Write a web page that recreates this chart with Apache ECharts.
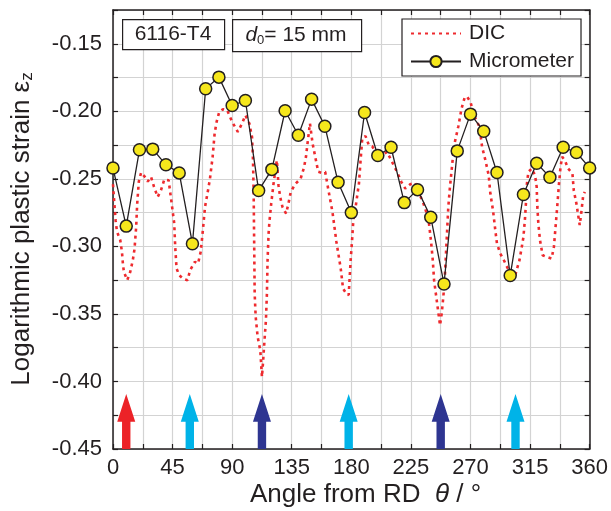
<!DOCTYPE html>
<html>
<head>
<meta charset="utf-8">
<script src="https://cdn.jsdelivr.net/npm/echarts@6/dist/echarts.min.js"></script>
<style>
html,body{margin:0;padding:0;background:#fff;}
#chart{width:611px;height:511px;}
</style>
</head>
<body>
<div id="chart"></div>
<script>
// ---- data ----
const dicAngles = [0,1,2,3,5.5,6.75,7.5,8.25,10.75,13,15,16.25,17.5,18.25,19.5,21.25,24.5,26.25,28.75,31,33.75,36.25,38.75,42,44.25,46.25,47,48,50,53,56.25,58.25,61.75,64.25,66.25,68,69.5,72,73.25,75.25,76.75,78.25,80.25,83,86.25,90,94.25,97.5,100,103,105,105.75,106.25,106.5,106.75,107,107.75,109.25,111.25,112.5,113.25,114.25,115.5,116.25,116.75,117.5,118.25,119.5,121.25,123.75,125,126.25,128,130.75,132.5,134.25,137.5,141.75,144.25,145.75,146.75,148.75,150.75,152.5,155,157.5,160.25,162.5,165.75,168.75,172,173.75,176.25,178,179.5,180.75,181.5,183.25,184.5,185.75,187,188.25,190.75,193.25,195.75,199.5,202,203.25,207,210.75,214.5,217.75,220.75,224.5,228.25,230.75,234.5,238.25,240.25,241.5,242.5,244.5,247,248.25,249.5,250.75,252,253.25,254.5,255.75,257,258.25,260.75,263.25,265.75,267.5,270,272.5,276.25,277.5,278.75,281.25,283.75,285,287,288.75,290,292.5,295,300,303.75,307,308.75,310,311.25,312,312.5,313.75,316.25,318.75,320,320.5,321.25,322.5,324.5,327.5,331.25,333,334.25,335.5,336.75,338,339.25,341.25,343.75,347,348,350,352.5,353.75,355,356.25];
const dicValues = [-0.254,-0.268,-0.281,-0.289,-0.2955,-0.304,-0.313,-0.319,-0.325,-0.319,-0.310,-0.302,-0.2856,-0.2688,-0.252,-0.2453,-0.249,-0.252,-0.2486,-0.256,-0.2634,-0.2584,-0.2505,-0.251,-0.2678,-0.2831,-0.3004,-0.3164,-0.3213,-0.324,-0.325,-0.3177,-0.3115,-0.3127,-0.304,-0.2868,-0.2708,-0.2572,-0.2498,-0.2337,-0.2165,-0.2078,-0.2004,-0.1985,-0.1992,-0.2078,-0.2152,-0.209,-0.2029,-0.209,-0.219,-0.2362,-0.261,-0.286,-0.310,-0.335,-0.352,-0.367,-0.377,-0.3966,-0.3868,-0.372,-0.3547,-0.335,-0.3102,-0.2905,-0.2806,-0.2683,-0.2535,-0.2362,-0.2547,-0.2634,-0.2708,-0.2757,-0.2683,-0.2597,-0.254,-0.2498,-0.2416,-0.2337,-0.2251,-0.209,-0.2239,-0.2325,-0.2448,-0.2455,-0.2448,-0.2572,-0.2745,-0.2967,-0.3164,-0.3312,-0.335,-0.336,-0.310,-0.293,-0.2806,-0.2708,-0.2621,-0.2535,-0.2362,-0.2202,-0.2184,-0.2251,-0.2258,-0.2325,-0.2374,-0.2325,-0.230,-0.2374,-0.2448,-0.2522,-0.2572,-0.254,-0.253,-0.2597,-0.2683,-0.2794,-0.2967,-0.310,-0.325,-0.3399,-0.3584,-0.3497,-0.3374,-0.3201,-0.2954,-0.2708,-0.256,-0.2436,-0.2313,-0.2226,-0.2115,-0.198,-0.1893,-0.1893,-0.193,-0.2029,-0.2103,-0.2165,-0.2263,-0.2362,-0.2473,-0.2609,-0.2732,-0.288,-0.2979,-0.3053,-0.3098,-0.3201,-0.3214,-0.3102,-0.3004,-0.293,-0.2782,-0.2658,-0.2547,-0.2448,-0.2424,-0.2473,-0.256,-0.2708,-0.2831,-0.2954,-0.3066,-0.3078,-0.309,-0.3004,-0.2856,-0.2708,-0.2547,-0.2411,-0.2337,-0.2362,-0.2424,-0.2461,-0.2584,-0.2683,-0.2843,-0.2745,-0.2634,-0.2597];

const microAngles = [0,10,20,30,40,50,60,70,80,90,100,110,120,130,140,150,160,170,180,190,200,210,220,230,240,250,260,270,280,290,300,310,320,330,340,350,360];
const microValues = [-0.242,-0.285,-0.2285,-0.228,-0.2396,-0.2456,-0.298,-0.1833,-0.1747,-0.1957,-0.192,-0.2587,-0.243,-0.1996,-0.2177,-0.191,-0.211,-0.2525,-0.275,-0.2009,-0.2327,-0.2266,-0.2676,-0.258,-0.2784,-0.3278,-0.2293,-0.2021,-0.2147,-0.2453,-0.3216,-0.2616,-0.2384,-0.2488,-0.2266,-0.2305,-0.2419];

const arrowAngles = [10, 58, 112.5, 178, 247.5, 304];
const arrowColors = ['#ec2227', '#00b3e8', '#2e3591', '#00b3e8', '#2e3591', '#00b3e8'];
const arrowTip = -0.4093;
const arrowHeadBase = -0.4298;

const xMin = 0, xMax = 360, xStep = 22.5, xLabelStep = 45;
const yMin = -0.45, yMax = -0.125, yStep = 0.025, yLabelStep = 0.05;

const seriesNames = ['DIC', 'Micrometer'];

// ---- chart ----
const FONT = "'Liberation Sans', Arial, Helvetica, sans-serif";
const INK = '#231f20';
const GRID = '#d3d3d3';

const chart = echarts.init(document.getElementById('chart'), null, {renderer: 'canvas'});

function axisBase(extra) {
  return Object.assign({
    axisLine: {show: true, onZero: false, lineStyle: {color: INK, width: 1.5}},
    axisTick: {show: true, inside: true, length: 5, lineStyle: {color: INK, width: 1.2}},
  }, extra);
}

const option = {
  animation: false,
  backgroundColor: '#fff',
  grid: {left: 113, right: 20, top: 10, bottom: 62, containLabel: false},
  xAxis: [
    axisBase({
      type: 'value', min: xMin, max: xMax, interval: xStep, position: 'bottom',
      axisLabel: {
        fontSize: 22, color: INK, fontFamily: FONT, margin: 8,
        formatter: v => (Math.abs(v % xLabelStep) < 1e-6 ? String(v) : '')
      },
      splitLine: {show: true, lineStyle: {color: GRID, width: 1.2}}
    }),
    axisBase({
      type: 'value', min: xMin, max: xMax, interval: xStep, position: 'top',
      axisLabel: {show: false}, splitLine: {show: false}
    })
  ],
  yAxis: [
    axisBase({
      type: 'value', min: yMin, max: yMax, interval: yStep, position: 'left',
      axisLabel: {
        fontSize: 22, color: INK, fontFamily: FONT, margin: 11,
        formatter: v => (Math.abs(Math.round(v * 1000)) % Math.round(yLabelStep * 1000) === 0 ? v.toFixed(2) : '')
      },
      splitLine: {show: true, lineStyle: {color: GRID, width: 1.2}}
    }),
    axisBase({
      type: 'value', min: yMin, max: yMax, interval: yStep, position: 'right',
      axisLabel: {show: false}, splitLine: {show: false}
    })
  ],
  legend: {
    data: [{name: seriesNames[0], itemStyle: {opacity: 0}}, {name: seriesNames[1]}],
    orient: 'vertical',
    left: 402, top: 19,
    padding: [4, 7, 4, 8],
    itemGap: 7,
    itemWidth: 50, itemHeight: 14,
    backgroundColor: '#fff',
    borderColor: INK, borderWidth: 1.2, borderRadius: 0,
    textStyle: {fontSize: 21, color: INK, fontFamily: FONT, padding: [0, 0, 0, 3]},
    selectedMode: false
  },
  graphic: [
    {type: 'rect', left: 122, top: 19, shape: {width: 102, height: 30}, style: {fill: '#fff', stroke: INK, lineWidth: 1.2}, z: 100},
    {type: 'text', x: 173, y: 34, style: {text: '6116-T4', font: "21px " + FONT, fill: INK, align: 'center', verticalAlign: 'middle'}, z: 101},
    {type: 'rect', left: 232, top: 19, shape: {width: 129, height: 32}, style: {fill: '#fff', stroke: INK, lineWidth: 1.2}, z: 100},
    {type: 'text', x: 296, y: 35, style: {
      text: '{i|d}{s|0}{n|= 15 mm}', align: 'center', verticalAlign: 'middle', fill: INK,
      rich: {
        i: {fontSize: 21, fontStyle: 'italic', fontFamily: FONT, fill: INK},
        s: {fontSize: 13, fontFamily: FONT, fill: INK, padding: [10, 0, 0, 0]},
        n: {fontSize: 21, fontFamily: FONT, fill: INK}
      }}, z: 101},
    {type: 'text', x: 22, y: 229, rotation: Math.PI / 2, style: {
      text: '{a|Logarithmic plastic strain ε}{b|z}', align: 'center', verticalAlign: 'middle', fill: INK,
      rich: {
        a: {fontSize: 26, fontFamily: FONT, fill: INK},
        b: {fontSize: 17, fontFamily: FONT, fill: INK, padding: [10, 0, 0, 0]}
      }}},
    {type: 'text', x: 250, y: 495, style: {
      text: '{n|Angle from RD  }{i|θ}{n| / °}', align: 'left', verticalAlign: 'middle', fill: INK,
      rich: {
        n: {fontSize: 26, fontFamily: FONT, fill: INK},
        i: {fontSize: 26, fontFamily: FONT, fontStyle: 'italic', fill: INK}
      }}}
  ],
  series: [
    {
      name: seriesNames[0], type: 'line', xAxisIndex: 0, yAxisIndex: 0,
      data: dicAngles.map((a, i) => [a, dicValues[i]]),
      symbol: 'none', smooth: false,
      lineStyle: {color: '#ee2a2e', width: 2.6, type: [3, 4]},
      itemStyle: {color: '#ee2a2e'},
      z: 3
    },
    {
      name: seriesNames[1], type: 'line', xAxisIndex: 0, yAxisIndex: 0,
      data: microAngles.map((a, i) => [a, microValues[i]]),
      symbol: 'circle', symbolSize: 12,
      lineStyle: {color: INK, width: 1.3},
      itemStyle: {color: '#f6e71c', borderColor: INK, borderWidth: 1.5},
      z: 4
    },
    {
      name: 'arrows', type: 'custom', xAxisIndex: 0, yAxisIndex: 0,
      data: arrowAngles.map(a => [a, arrowTip]),
      clip: false, z: 5,
      renderItem: function (params, api) {
        const a = api.value(0);
        const tip = api.coord([a, arrowTip]);
        const base = api.coord([a, arrowHeadBase]);
        const bot = api.coord([a, yMin]);
        const hw = 9, sw = 4.2, cx = tip[0];
        return {
          type: 'polygon',
          shape: {points: [[cx, tip[1]], [cx + hw, base[1]], [cx + sw, base[1]], [cx + sw, bot[1]], [cx - sw, bot[1]], [cx - sw, base[1]], [cx - hw, base[1]]]},
          style: {fill: arrowColors[params.dataIndex]}
        };
      }
    }
  ]
};
chart.setOption(option);
</script>
</body>
</html>
